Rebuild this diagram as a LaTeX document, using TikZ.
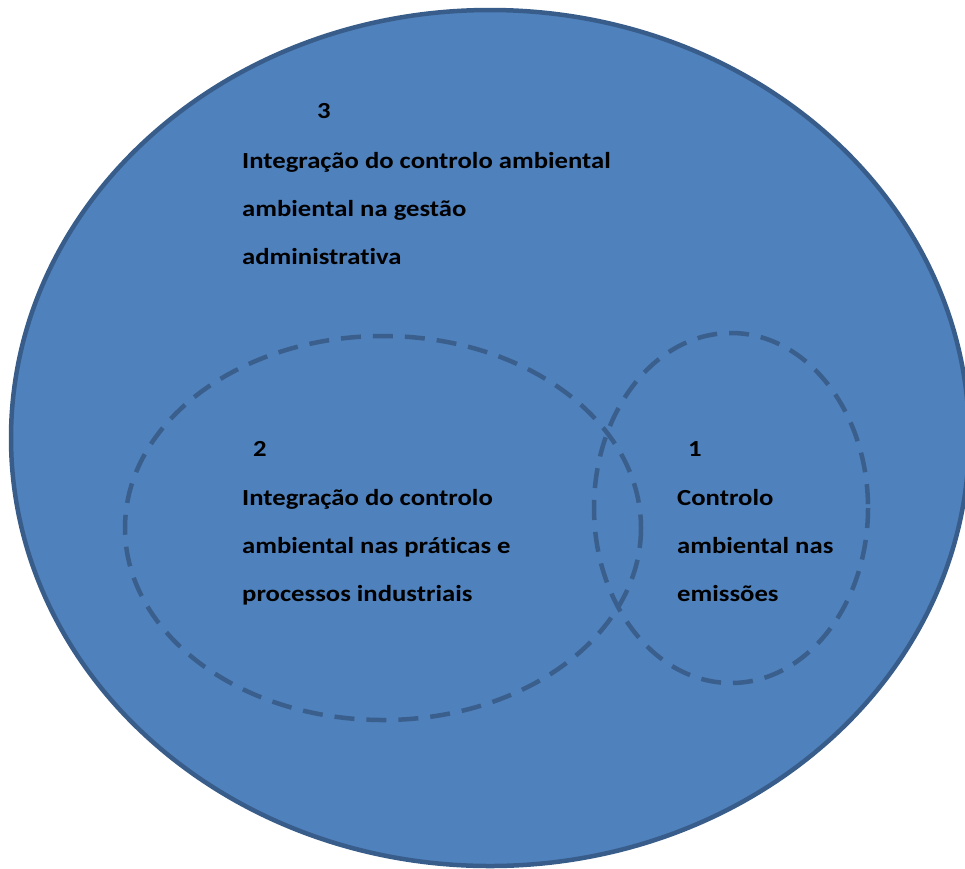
\documentclass[tikz,border=0pt]{standalone}
\usepackage{fontspec}
\setmainfont{Carlito}[FakeStretch=1.16,Ligatures=NoCommon]
\definecolor{fillblue}{HTML}{4F81BD}
\definecolor{edgeblue}{HTML}{385D8A}
\definecolor{dashblue}{HTML}{3A5F8C}
\begin{document}
\begin{tikzpicture}[x=1pt,y=-1pt]
	\tikzstyle{every node}=[font=\fontsize{23}{48}\selectfont\bfseries, inner sep=0pt, anchor=base west, align=left]
	\tikzstyle{ring}=[draw=dashblue, line width=4.5pt, dash pattern=on 20pt off 12pt]
	
	\useasboundingbox (0,0) rectangle (965,868);
	\clip (0,0) rectangle (965,868);
	
	% outer area
	\draw [draw=edgeblue, fill=fillblue, line width=4.5pt] (490,438) ellipse (479 and 428);
	
	% inner areas
	\draw [ring] (383,528) ellipse (258 and 192);
	\draw [ring] (731,508) ellipse (137 and 175);
	
	% base of a text block = last line
	\node (num3) at (317,118) {3};
	\node (txt3) at (242,264) {Integração do controlo ambiental\\ambiental na gestão\\administrativa};
	
	\node (num2) at (253,456) {2};
	\node (txt2) at (242,601) {Integração do controlo\\ambiental nas práticas e\\processos industriais};
	
	\node (num1) at (688,456) {1};
	\node (txt1) at (677,601) {Controlo\\ambiental nas\\emissões};
	
\end{tikzpicture}
\end{document}
